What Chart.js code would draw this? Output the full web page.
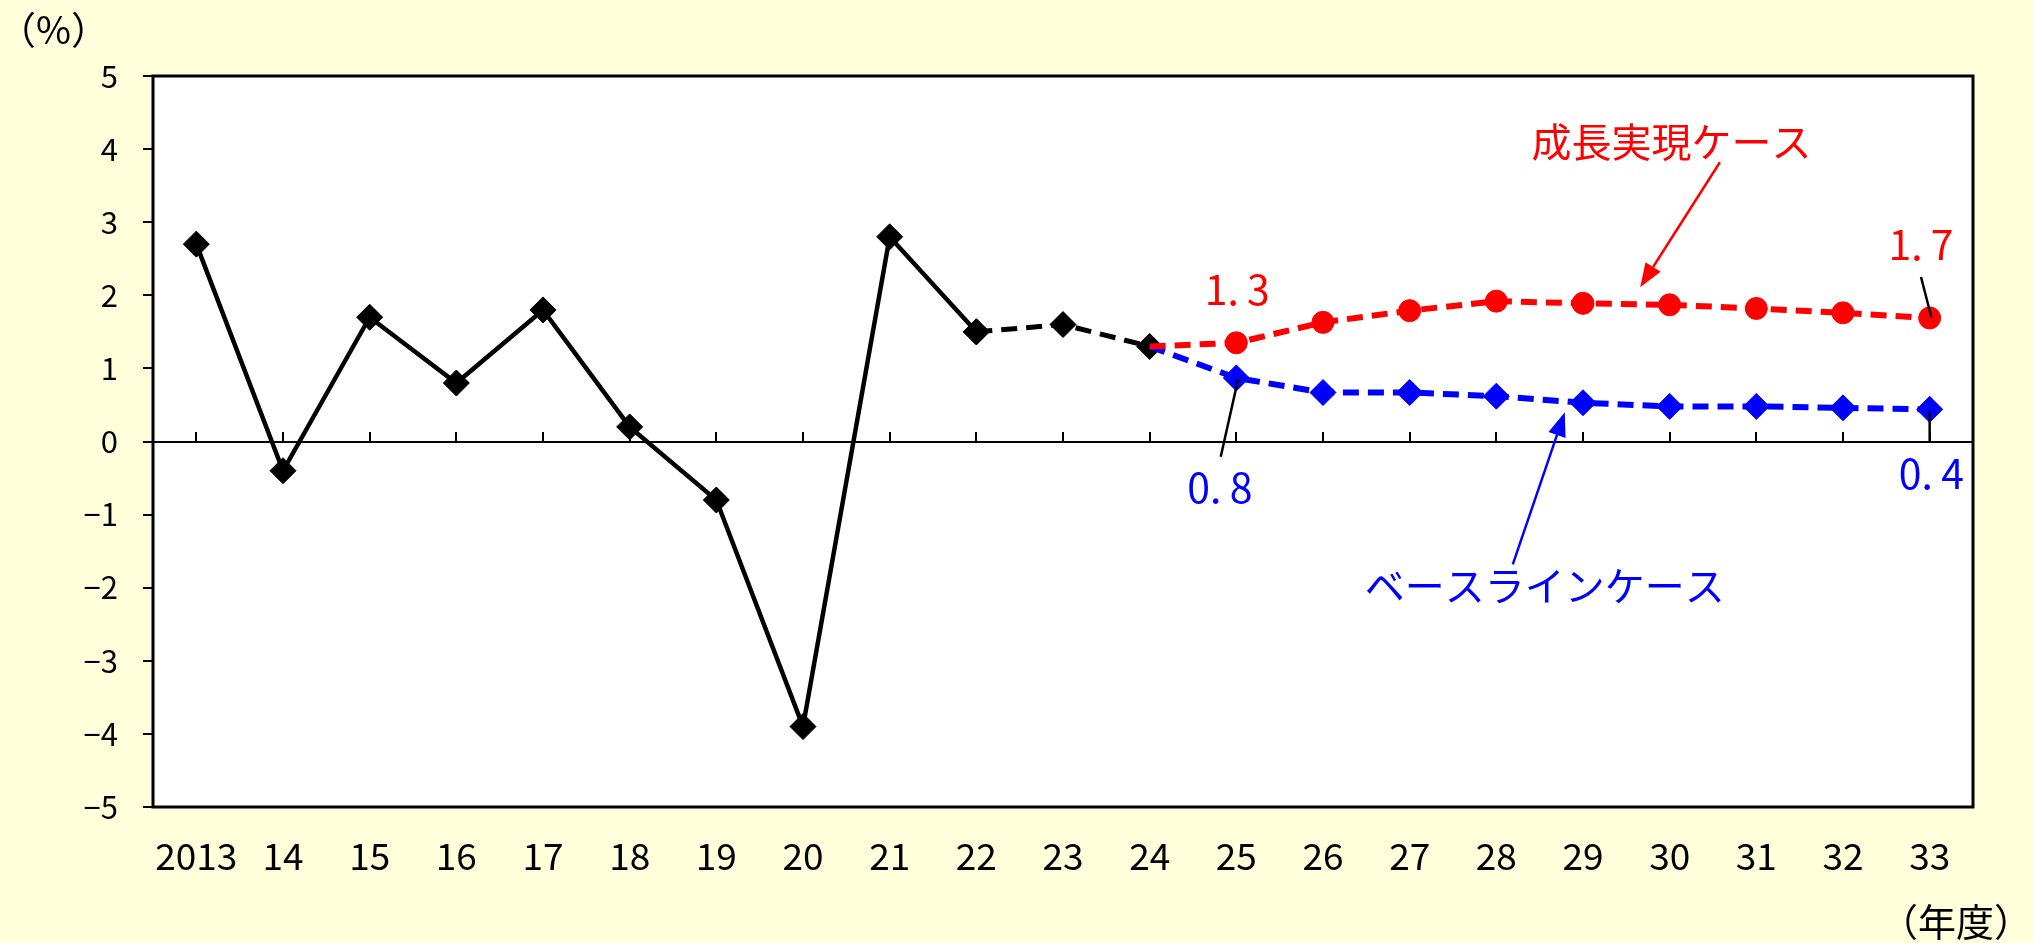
<!DOCTYPE html>
<html>

<head>
    <meta charset="UTF-8">
    <title>実質GDP成長率</title>
    <script src="https://cdn.jsdelivr.net/npm/chart.js@4.4.1/dist/chart.umd.min.js"></script>
    <style>
        html, body { margin: 0; padding: 0; background: #ffffdc; }
        canvas { display: block; }
    </style>
</head>

<body>
    <canvas id="chart" width="2033" height="943"></canvas>

    <script>
        // data (年度, %)
        var years = ['2013', '14', '15', '16', '17', '18', '19', '20', '21', '22', '23',
            '24', '25', '26', '27', '28', '29', '30', '31', '32', '33'];
        var jisseki = [2.7, -0.4, 1.7, 0.8, 1.8, 0.2, -0.8, -3.9, 2.8, 1.5,
            null, null, null, null, null, null, null, null, null, null, null];
        var mikomi = [null, null, null, null, null, null, null, null, null, 1.5,
            1.6, 1.3, null, null, null, null, null, null, null, null, null];
        var seicho = [null, null, null, null, null, null, null, null, null, null,
            null, 1.3, 1.35, 1.63, 1.79, 1.92, 1.89, 1.87, 1.82, 1.76, 1.69];
        var baseline = [null, null, null, null, null, null, null, null, null, null,
            null, 1.3, 0.87, 0.67, 0.67, 0.62, 0.53, 0.48, 0.48, 0.46, 0.44];
        var yTicks = [-5, -4, -3, -2, -1, 0, 1, 2, 3, 4, 5];

        var FONT = '"Noto Sans CJK JP", "Noto Sans", sans-serif';

        // annotation anchors in (category index, value)
        var notes = [
            { text: '成長実現ケース', x: 17.02, y: 4.10, color: '#ff0000', size: 40 },
            { text: 'ベースラインケース', x: 15.56, y: -1.97, color: '#0000ff', size: 40 },
            { text: '1.\u20093', x: 12.01, y: 2.08, color: '#ff0000', size: 41 },
            { text: '1.\u20097', x: 19.9, y: 2.70, color: '#ff0000', size: 41 },
            { text: '0.\u20098', x: 11.81, y: -0.63, color: '#0000ff', size: 41 },
            { text: '0.\u20094', x: 20.02, y: -0.44, color: '#0000ff', size: 41 }
        ];
        var arrows = [
            { x1: 17.58, y1: 3.82, x2: 16.66, y2: 2.11, color: '#ff0000' },
            { x1: 15.19, y1: -1.68, x2: 15.79, y2: 0.40, color: '#0000ff' }
        ];
        var leaders = [
            { x1: 19.9, y1: 2.25, x2: 20.02, y2: 1.70 },
            { x1: 12.02, y1: 0.85, x2: 11.82, y2: -0.21 },
            { x1: 20.0, y1: 0.41, x2: 20.0, y2: -0.01 }
        ];

        var decor = {
            id: 'decor',
            beforeDraw: function (chart) {
                var c = chart.ctx, a = chart.chartArea;
                c.save();
                c.fillStyle = '#ffffdc';
                c.fillRect(0, 0, chart.width, chart.height);
                c.fillStyle = '#ffffff';
                c.fillRect(a.left, a.top, a.right - a.left, a.bottom - a.top);
                c.restore();
            },
            beforeDatasetsDraw: function (chart) {
                var c = chart.ctx, a = chart.chartArea;
                var xs = chart.scales.x, ys = chart.scales.y;
                var y0 = Math.round(ys.getPixelForValue(0));
                c.save();
                c.strokeStyle = '#000';
                c.lineWidth = 2;
                c.beginPath();
                c.moveTo(a.left, y0);
                c.lineTo(a.right, y0);
                for (var i = 0; i < years.length; i++) {
                    var x = Math.round(xs.getPixelForValue(i));
                    c.moveTo(x, y0);
                    c.lineTo(x, y0 - 10);
                }
                c.stroke();
                c.lineWidth = 3;
                c.strokeRect(a.left, a.top, a.right - a.left, a.bottom - a.top);
                c.restore();
            },
            afterDatasetsDraw: function (chart) {
                var c = chart.ctx;
                var xs = chart.scales.x, ys = chart.scales.y;
                c.save();
                // leader lines
                c.strokeStyle = '#000';
                c.lineWidth = 2.5;
                leaders.forEach(function (l) {
                    c.beginPath();
                    c.moveTo(xs.getPixelForValue(l.x1), ys.getPixelForValue(l.y1));
                    c.lineTo(xs.getPixelForValue(l.x2), ys.getPixelForValue(l.y2));
                    c.stroke();
                });
                // arrows
                arrows.forEach(function (ar) {
                    var sx = xs.getPixelForValue(ar.x1), sy = ys.getPixelForValue(ar.y1);
                    var tx = xs.getPixelForValue(ar.x2), ty = ys.getPixelForValue(ar.y2);
                    var ang = Math.atan2(ty - sy, tx - sx);
                    var len = 24, half = 9;
                    var bx = tx - len * Math.cos(ang), by = ty - len * Math.sin(ang);
                    c.strokeStyle = ar.color;
                    c.fillStyle = ar.color;
                    c.lineWidth = 2.5;
                    c.beginPath();
                    c.moveTo(sx, sy);
                    c.lineTo(bx, by);
                    c.stroke();
                    c.beginPath();
                    c.moveTo(tx, ty);
                    c.lineTo(bx + half * Math.sin(ang), by - half * Math.cos(ang));
                    c.lineTo(bx - half * Math.sin(ang), by + half * Math.cos(ang));
                    c.closePath();
                    c.fill();
                });
                // texts
                c.textAlign = 'center';
                c.textBaseline = 'middle';
                notes.forEach(function (n) {
                    c.font = n.size + 'px ' + FONT;
                    c.fillStyle = n.color;
                    c.fillText(n.text, xs.getPixelForValue(n.x), ys.getPixelForValue(n.y));
                });
                c.restore();
            },
            afterDraw: function (chart) {
                var c = chart.ctx;
                c.save();
                c.fillStyle = '#000';
                c.textBaseline = 'middle';
                c.font = '38px ' + FONT;
                c.textAlign = 'left';
                c.fillText('（%）', -2, 30);
                c.font = '38px ' + FONT;
                c.textAlign = 'right';
                c.fillText('（年度）', 2032, 922);
                c.restore();
            }
        };

        Chart.defaults.font.family = FONT;
        Chart.defaults.color = '#000';

        var ctx = document.getElementById('chart').getContext('2d');
        var chart = new Chart(ctx, {
            type: 'line',
            data: {
                labels: years,
                datasets: [{
                    label: '成長実現ケース',
                    data: seicho,
                    borderColor: '#ff0000',
                    backgroundColor: '#ff0000',
                    borderWidth: 6,
                    borderDash: [16, 9],
                    pointStyle: 'circle',
                    pointRadius: seicho.map(function (v, i) { return i === 11 ? 0 : 11; }),
                    pointBorderWidth: 1,
                    order: 1
                },
                {
                    label: 'ベースラインケース',
                    data: baseline,
                    borderColor: '#0000ff',
                    backgroundColor: '#0000ff',
                    borderWidth: 6,
                    borderDash: [16, 9],
                    pointStyle: 'rectRot',
                    pointRadius: baseline.map(function (v, i) { return i === 11 ? 0 : 13; }),
                    pointBorderWidth: 1,
                    order: 2
                },
                {
                    label: '見込み',
                    data: mikomi,
                    borderColor: '#000',
                    backgroundColor: '#000',
                    borderWidth: 5,
                    borderDash: [16, 9],
                    pointStyle: 'rectRot',
                    pointRadius: 13,
                    pointBorderWidth: 1,
                    order: 3
                },
                {
                    label: '実績',
                    data: jisseki,
                    borderColor: '#000',
                    backgroundColor: '#000',
                    borderWidth: 4.5,
                    pointStyle: 'rectRot',
                    pointRadius: 13,
                    pointBorderWidth: 1,
                    order: 4
                }]
            },
            options: {
                responsive: false,
                animation: false,
                devicePixelRatio: 1,
                spanGaps: false,
                layout: { padding: { left: 0, top: 76, right: 60, bottom: 0 } },
                plugins: {
                    legend: { display: false },
                    tooltip: { enabled: false }
                },
                scales: {
                    x: {
                        offset: true,
                        grid: { display: false, drawTicks: false },
                        border: { display: false },
                        ticks: {
                            font: { size: 37 },
                            padding: 27,
                            maxRotation: 0,
                            autoSkip: false
                        },
                        afterFit: function (s) { s.height = 136; }
                    },
                    y: {
                        min: -5,
                        max: 5,
                        afterBuildTicks: function (s) {
                            s.ticks = yTicks.map(function (v) { return { value: v }; });
                        },
                        grid: {
                            drawOnChartArea: false,
                            drawTicks: true,
                            tickLength: 10,
                            color: '#000',
                            lineWidth: 2
                        },
                        border: { display: false },
                        ticks: {
                            font: { size: 31 },
                            padding: 25,
                            callback: function (v) { return String(v).replace('-', '\u2212'); }
                        },
                        afterFit: function (s) { s.width = 153; }
                    }
                }
            },
            plugins: [decor]
        });
    </script>
</body>

</html>
